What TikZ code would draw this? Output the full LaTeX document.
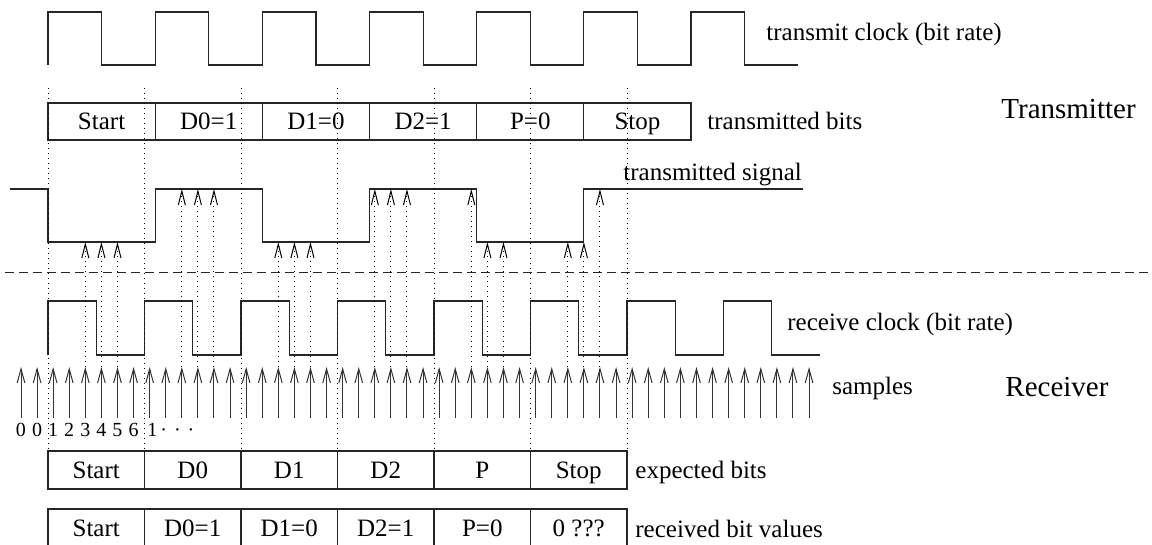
\documentclass[tikz,border=0pt]{standalone}
\usepackage{fontspec}
\setmainfont{Liberation Serif}
\usetikzlibrary{arrows.meta}
\tikzset{
  wave/.style={line width=0.6pt, draw=black!85},
  gridLine/.style={line width=0.5pt, draw=black, dash pattern=on 0.6pt off 1.9pt},
  cutLine/.style={line width=0.5pt, draw=black!85, dash pattern=on 4.6pt off 2.4pt},
  bitCell/.style={draw=black!85, line width=0.6pt, inner sep=0pt, text height=11pt, text depth=2.7pt,
    font=\fontsize{12.5}{15}\selectfont},
  sampleArrow/.style={-{Straight Barb[length=7pt,width=3.8pt]}, line width=0.5pt, draw=black!80},
  probeArrow/.style={-{Straight Barb[length=7pt,width=3.5pt]}, line width=0.5pt, dash pattern=on 0.6pt off 1.9pt},
  sideLabel/.style={anchor=base west, inner sep=0pt, font=\fontsize{12.5}{15}\selectfont},
  partLabel/.style={anchor=base west, inner sep=0pt, font=\fontsize{14.5}{17}\selectfont},
  countLabel/.style={anchor=base, inner sep=0pt, font=\fontsize{10}{12}\selectfont}
}

\begin{document}
\begin{tikzpicture}[x=0.5pt,y=-0.5pt]
  \useasboundingbox (0,0) rectangle (1152,545);

  % transmitter side
  \draw[wave] (48,65) foreach \k in {0,...,6} {
    -- ({48+107.17*\k},12) -- ({101.6+107.17*\k},12) -- ({101.6+107.17*\k},65) -- ({155.17+107.17*\k},65)};
  \node[sideLabel] (txclk) at (766,41) {transmit clock (bit rate)};

  \foreach \k/\txt in {0/Start,1/D0=1,2/D1=0,3/D2=1,4/P=0,5/Stop}
    \node[bitCell, minimum width=53.58pt, minimum height=18.5pt] (tb\k) at ({101.6+107.17*\k},121.5) {\txt};
  \node[sideLabel] (txbits) at (707,130) {transmitted bits};
  \node[partLabel] (tx) at (1001,119) {Transmitter};

  \draw[wave] (10,189) -- (48,189) -- (48,242) -- (155.2,242) -- (155.2,189) -- (262.3,189)
    -- (262.3,242) -- (369.5,242) -- (369.5,189) -- (476.7,189) -- (476.7,242)
    -- (583.8,242) -- (583.8,189) -- (803,189);
  \node[sideLabel] (txsig) at (623,181) {transmitted signal};

  \draw[cutLine] (5,273) -- (1152,273);

  % receiver side
  \draw[wave] (48,355) foreach \k in {0,...,7} {
    -- ({48+96.5*\k},301) -- ({96.25+96.5*\k},301) -- ({96.25+96.5*\k},355) -- ({144.5+96.5*\k},355)};
  \node[sideLabel] (rxclk) at (787,331) {receive clock (bit rate)};

  \foreach \k in {0,...,6}
    \draw[gridLine] ({48+96.5*\k},88) -- ({48+96.5*\k},451);

  \foreach \n in {0,...,49} {
    \coordinate (sb\n) at ({21+16.083*\n},418);
    \coordinate (st\n) at ({21+16.083*\n},367);
    \draw[sampleArrow] (sb\n) -- (st\n);
  }
  \node[sideLabel] (smp) at (832,394) {samples};
  \node[partLabel] (rx) at (1005,396) {Receiver};

  % samples
  \foreach \n/\lvl in {4/242,5/242,6/242,10/189,11/189,12/189,16/242,17/242,18/242,
                       22/189,23/189,24/189,28/189,29/242,30/242,34/242,35/242,36/189} {
    \coordinate (p\n) at ({21+16.083*\n},\lvl);
    \draw[probeArrow] (st\n) -- (p\n);
  }

  \foreach \n/\d in {0/0,1/0,2/1,3/2,4/3,5/4,6/5,7/6}
    \node[countLabel] (c\n) at ({21+16.083*\n},437) {\d};
  \node[countLabel, anchor=base west] (cnext) at (147,437) {1\hspace{1.5pt}·\hspace{3.5pt}·\hspace{3.5pt}·};

  \foreach \k/\txt in {0/Start,1/D0,2/D1,3/D2,4/P,5/Stop}
    \node[bitCell, minimum width=48.25pt, minimum height=19pt] (eb\k) at ({96.25+96.5*\k},470) {\txt};
  \node[sideLabel] (expbits) at (635,478) {expected bits};

  \foreach \k/\txt in {0/Start,1/D0=1,2/D1=0,3/D2=1,4/P=0,5/0 ???}
    \node[bitCell, minimum width=48.25pt, minimum height=19pt] (rb\k) at ({96.25+96.5*\k},528) {\txt};
  \node[sideLabel] (rxbits) at (635,537) {received bit values};
\end{tikzpicture}
\end{document}
